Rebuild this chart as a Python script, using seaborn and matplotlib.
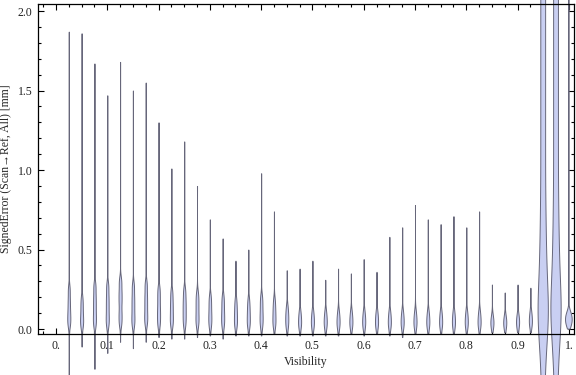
import numpy as np
import pandas as pd
import seaborn as sns
import matplotlib.pyplot as plt
from matplotlib.ticker import MultipleLocator

# visibility bins (narrow violins)
vis_main = [0.025, 0.05, 0.075, 0.1, 0.125, 0.15, 0.175, 0.2, 0.225, 0.25,
            0.275, 0.3, 0.325, 0.35, 0.375, 0.4, 0.425, 0.45, 0.475, 0.5,
            0.525, 0.55, 0.575, 0.6, 0.625, 0.65, 0.675, 0.7, 0.725, 0.75,
            0.775, 0.8, 0.825, 0.85, 0.875, 0.9, 0.925]
err_min = [-0.29, -0.11, -0.25, -0.15, -0.08, -0.12, -0.08, -0.05, -0.06, -0.06,
           -0.05, -0.04, -0.06, -0.04, -0.04, -0.04, -0.03, -0.04, -0.04, -0.04,
           -0.04, -0.04, -0.03, -0.04, -0.03, -0.04, -0.05, -0.03, -0.03, -0.03,
           -0.03, -0.03, -0.03, -0.02, -0.02, -0.02, -0.02]
err_q10 = [0.03, 0.02, 0.03, 0.03, 0.04, 0.03, 0.04, 0.03, 0.03, 0.03,
           0.03, 0.02, 0.02, 0.02, 0.02, 0.02, 0.02, 0.01, 0.01, 0.01,
           0.01, 0.01, 0.01, 0.01, 0.01, 0.01, 0.01, 0.01, 0.01, 0.01,
           0.01, 0.01, 0.01, 0.01, 0.01, 0.01, 0.02]
err_q25 = [0.07, 0.05, 0.08, 0.08, 0.10, 0.08, 0.09, 0.08, 0.07, 0.08,
           0.07, 0.06, 0.06, 0.05, 0.05, 0.06, 0.05, 0.04, 0.03, 0.03,
           0.03, 0.03, 0.03, 0.03, 0.03, 0.03, 0.03, 0.03, 0.03, 0.03,
           0.03, 0.03, 0.03, 0.025, 0.025, 0.03, 0.035]
err_med = [0.12, 0.09, 0.14, 0.14, 0.17, 0.14, 0.15, 0.13, 0.12, 0.13,
           0.12, 0.10, 0.10, 0.09, 0.09, 0.10, 0.09, 0.07, 0.05, 0.05,
           0.05, 0.05, 0.05, 0.05, 0.05, 0.05, 0.05, 0.05, 0.05, 0.05,
           0.05, 0.05, 0.05, 0.04, 0.04, 0.045, 0.055]
err_q75 = [0.18, 0.14, 0.20, 0.20, 0.23, 0.20, 0.21, 0.19, 0.17, 0.18,
           0.17, 0.15, 0.15, 0.13, 0.13, 0.15, 0.13, 0.10, 0.08, 0.08,
           0.08, 0.08, 0.08, 0.08, 0.08, 0.08, 0.08, 0.08, 0.08, 0.08,
           0.08, 0.08, 0.08, 0.06, 0.06, 0.065, 0.08]
err_q90 = [0.25, 0.19, 0.27, 0.27, 0.30, 0.27, 0.28, 0.25, 0.23, 0.24,
           0.22, 0.20, 0.20, 0.18, 0.18, 0.20, 0.18, 0.14, 0.11, 0.11,
           0.11, 0.11, 0.11, 0.11, 0.11, 0.11, 0.11, 0.11, 0.11, 0.11,
           0.11, 0.11, 0.11, 0.08, 0.08, 0.09, 0.11]
err_max = [1.87, 1.86, 1.67, 1.47, 1.68, 1.50, 1.55, 1.30, 1.01, 1.18,
           0.90, 0.69, 0.57, 0.43, 0.50, 0.98, 0.74, 0.37, 0.38, 0.43,
           0.31, 0.38, 0.35, 0.44, 0.36, 0.58, 0.64, 0.78, 0.69, 0.66,
           0.71, 0.64, 0.74, 0.28, 0.23, 0.28, 0.26]

# two broad violins near full visibility
vis_wide = [0.95, 0.975]
err_wide_095 = [-0.45, -0.27, -0.14, -0.05, 0.02, 0.08, 0.14, 0.20, 0.27, 0.35,
                0.44, 0.54, 0.65, 0.77, 0.90, 1.04, 1.18, 1.32, 1.46, 1.60,
                1.74, 1.88, 2.02, 2.16, 2.30, 2.45]
err_wide_0975 = [-0.42, -0.25, -0.13, -0.04, 0.03, 0.09, 0.15, 0.21, 0.28, 0.36,
                 0.45, 0.55, 0.66, 0.78, 0.91, 1.05, 1.19, 1.33, 1.47, 1.61,
                 1.75, 1.89, 2.03, 2.17, 2.31, 2.45]

# last bin at visibility 1: body deciles plus the extremes
vis_end = [1.0]
err_end_body = [0.02, 0.04, 0.06, 0.08, 0.10]
err_end_min, err_end_max = 0.0, 2.4

# share of observations carried by each body quantile (extremes count once)
body_share = 20

xtick_vals = [0.0, 0.1, 0.2, 0.3, 0.4, 0.5, 0.6, 0.7, 0.8, 0.9, 1.0]
xtick_labels = ["0.", "0.1", "0.2", "0.3", "0.4", "0.5", "0.6", "0.7", "0.8", "0.9", "1."]
ytick_vals = [0.0, 0.5, 1.0, 1.5, 2.0]
ytick_labels = ["0.0", "0.5", "1.0", "1.5", "2.0"]


def abs_bw(h):
    # gaussian_kde factor giving a fixed absolute bandwidth h
    return lambda k: h / np.std(k.dataset, ddof=1)


rows = []
for i, v in enumerate(vis_main):
    body = [err_q10[i], err_q25[i], err_med[i], err_q75[i], err_q90[i]] * body_share
    for val in [err_min[i]] + body + [err_max[i]]:
        rows.append((v, val))
df_main = pd.DataFrame(rows, columns=["Visibility", "Error"])

df_wide = pd.DataFrame(
    [(vis_wide[0], e) for e in err_wide_095] + [(vis_wide[1], e) for e in err_wide_0975],
    columns=["Visibility", "Error"])
end_vals = [err_end_min] + err_end_body * body_share + [err_end_max]
df_end = pd.DataFrame([(vis_end[0], e) for e in end_vals], columns=["Visibility", "Error"])

sns.set_style("ticks")
plt.rcParams["font.family"] = ["Liberation Serif", "DejaVu Serif"]
plt.rcParams["font.size"] = 8.5

fig, ax = plt.subplots(figsize=(5.76, 3.75), dpi=100)
fig.subplots_adjust(left=0.066, right=0.9965, bottom=0.1093, top=0.9893)

fill = "#c9cff2"
edge = "#66667a"
common = dict(x="Visibility", y="Error", native_scale=True, orient="x", cut=0,
              inner=None, density_norm="width", color=fill, saturation=1,
              linecolor=edge, linewidth=0.7, gridsize=300, ax=ax)

sns.violinplot(data=df_main, width=0.24, bw_method=abs_bw(0.035), **common)
sns.violinplot(data=df_wide, width=0.8, bw_method=abs_bw(0.12), **common)
sns.violinplot(data=df_end, width=0.013, bw_method=abs_bw(0.03), **common)

# violins run past the frame, as in the original
for c in ax.collections:
    c.set_clip_on(False)

ax.set_xlim(-0.035, 1.01)
ax.set_ylim(-0.031, 2.044)
ax.set_xticks(xtick_vals)
ax.set_xticklabels(xtick_labels)
ax.set_yticks(ytick_vals)
ax.set_yticklabels(ytick_labels)
ax.xaxis.set_minor_locator(MultipleLocator(0.025))
ax.yaxis.set_minor_locator(MultipleLocator(0.1))
ax.tick_params(which="both", direction="in", top=True, right=True, width=0.8,
               colors="black", labelcolor="#222222", labelsize=8.5, pad=4)
ax.tick_params(which="major", length=4)
ax.tick_params(which="minor", length=2.5)
for s in ax.spines.values():
    s.set_visible(True)
    s.set_linewidth(0.9)
    s.set_color("black")

ax.set_xlabel("Visibility", fontsize=8.5, labelpad=3)
ax.set_ylabel("SignedError (Scan\u2192Ref, All) [mm]", fontsize=8.5, labelpad=4)

fig.savefig("out.png", dpi=100)
